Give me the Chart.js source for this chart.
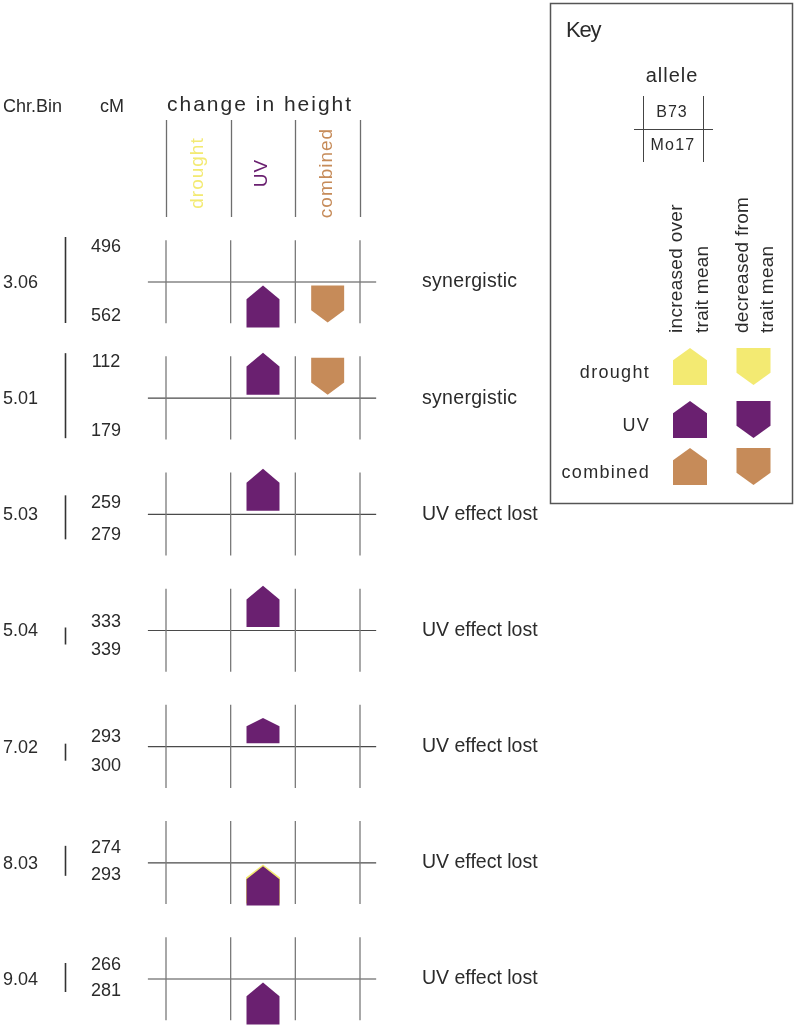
<!DOCTYPE html>
<html><head><meta charset="utf-8">
<script src="https://cdn.jsdelivr.net/npm/chart.js@4.4.0/dist/chart.umd.min.js"></script>
<style>html,body{margin:0;padding:0;background:#fff}#wrap{width:796px;height:1028px;position:relative}</style>
</head><body><div id="wrap"><canvas id="c"></canvas></div>
<script>
// ---------- data ----------
const chrBins = ['3.06','5.01','5.03','5.04','7.02','8.03','9.04'];
const cmStart = [496,112,259,333,293,274,266];
const cmEnd   = [562,179,279,339,300,293,281];
const interaction = ['synergistic','synergistic','UV effect lost','UV effect lost','UV effect lost','UV effect lost','UV effect lost'];
const traits = ['drought','UV','combined'];
// relative change in height (+ increased over trait mean, - decreased from trait mean)
const droughtEffect  = [null,null,null,null,null,null,null];
const uvEffect       = [1.0,1.0,1.0,0.98,0.6,0.93,1.0];
const combinedEffect = [-0.88,-0.88,null,null,null,null,null];
const effectAllele   = ['Mo17','B73','B73','B73','B73','Mo17','Mo17'];
const droughtOverlap = [false,false,false,false,false,true,false];
const alleles = ['B73','Mo17'];
const keyRows = ['drought','UV','combined'];
const keyCols = [['increased over','trait mean'],['decreased from','trait mean']];

// ---------- styles / layout ----------
const COLORS = {drought:'#F3EA72', UV:'#6A2070', combined:'#C68B59'};
const TEXT = '#2b2b2b';
const FONT = '"Liberation Sans", Arial, sans-serif';
const GLYPH_H = 0.3615;   // row units for relative effect 1.0
const GLYPH_W = 0.51;     // column units
const GAP = 3.5;          // px between row line and glyph
const barExtent = [[-45,41],[-45,40],[-19,25],[-3,14],[-3,14],[-17,13],[-16,13]];
const cmOffset  = [[-35,34],[-36,33],[-11,21],[-8,20],[-10,19],[-15,12],[-14,12]];

const effects = [droughtEffect, uvEffect, combinedEffect];

// grid line datasets built from the categories
const hLine = [], vLine = [];
chrBins.forEach((_, r) => {
  hLine.push({x:-0.78, y:r}, {x:2.75, y:r}, {x:null, y:null});
  for (let c = 0; c <= traits.length; c++) {
    vLine.push({x:c-0.5, y:r-0.36}, {x:c-0.5, y:r+0.355}, {x:null, y:null});
  }
});

function pent(ctx, cx, top, w, h, dir, color) {
  const roof = Math.min(h * 0.33, 14);
  ctx.beginPath();
  if (dir > 0) {
    ctx.moveTo(cx, top);
    ctx.lineTo(cx + w/2, top + roof);
    ctx.lineTo(cx + w/2, top + h);
    ctx.lineTo(cx - w/2, top + h);
    ctx.lineTo(cx - w/2, top + roof);
  } else {
    ctx.moveTo(cx - w/2, top);
    ctx.lineTo(cx + w/2, top);
    ctx.lineTo(cx + w/2, top + h - roof);
    ctx.lineTo(cx, top + h);
    ctx.lineTo(cx - w/2, top + h - roof);
  }
  ctx.closePath();
  ctx.fillStyle = color;
  ctx.fill();
}
function txt(ctx, s, x, y, size, opts = {}) {
  ctx.save();
  ctx.font = (opts.weight || '') + ' ' + size + 'px ' + FONT;
  ctx.fillStyle = opts.color || TEXT;
  ctx.textAlign = opts.align || 'left';
  ctx.textBaseline = 'middle';
  if ('letterSpacing' in ctx) ctx.letterSpacing = (opts.ls || 0) + 'px';
  ctx.translate(x, y);
  if (opts.rot) ctx.rotate(opts.rot);
  ctx.fillText(s, 0, 0);
  ctx.restore();
}

const glyphPlugin = {
  id: 'glyphs',
  afterDatasetsDraw(chart) {
    const {ctx, scales:{x, y}} = chart;
    const rowPx = Math.abs(y.getPixelForValue(1) - y.getPixelForValue(0));
    const colPx = Math.abs(x.getPixelForValue(1) - x.getPixelForValue(0));
    const w = GLYPH_W * colPx;
    chrBins.forEach((_, r) => {
      const yr = y.getPixelForValue(r);
      traits.forEach((t, c) => {
        const v = effects[c][r];
        if (v == null) return;
        const h = Math.abs(v) * GLYPH_H * rowPx;
        const cx = x.getPixelForValue(c);
        const top = effectAllele[r] === 'B73' ? yr - GAP - h : yr + GAP;
        if (t === 'UV' && droughtOverlap[r]) pent(ctx, cx, top - 1.8, w + 1, h, Math.sign(v), COLORS.drought);
        pent(ctx, cx, top, w, h, Math.sign(v), COLORS[t]);
      });
    });
  },
  afterDraw(chart) {
    const {ctx, scales:{x, y}} = chart;
    // header
    txt(ctx, 'Chr.Bin', 3, 107, 18);
    txt(ctx, 'cM', 100, 107, 18);
    txt(ctx, 'change in height', 167, 105, 21, {ls:2});
    ctx.save();
    ctx.strokeStyle = '#6e6e6e'; ctx.lineWidth = 1.3;
    for (let c = 0; c <= traits.length; c++) {
      const px = Math.round(x.getPixelForValue(c - 0.5)) + 0.5;
      ctx.beginPath(); ctx.moveTo(px, 120); ctx.lineTo(px, 217); ctx.stroke();
    }
    ctx.restore();
    traits.forEach((t, c) => {
      txt(ctx, t, x.getPixelForValue(c) - 1, 173, 19, {color: COLORS[t], align:'center', rot:-Math.PI/2, ls:1});
    });
    // row labels
    chrBins.forEach((b, r) => {
      const yr = y.getPixelForValue(r);
      txt(ctx, b, 3, yr + 1, 18);
      ctx.save();
      ctx.strokeStyle = '#333'; ctx.lineWidth = 1.6;
      ctx.beginPath(); ctx.moveTo(65.5, yr + barExtent[r][0]); ctx.lineTo(65.5, yr + barExtent[r][1]); ctx.stroke();
      ctx.restore();
      txt(ctx, String(cmStart[r]), 106, yr + cmOffset[r][0], 18, {align:'center'});
      txt(ctx, String(cmEnd[r]), 106, yr + cmOffset[r][1], 18, {align:'center'});
      txt(ctx, interaction[r], 422, yr, 19.5, {ls: interaction[r] === 'synergistic' ? 0.3 : 0});
    });
    // key
    ctx.save();
    ctx.strokeStyle = '#555'; ctx.lineWidth = 1.5;
    ctx.strokeRect(550.5, 3.5, 242, 500);
    ctx.restore();
    txt(ctx, 'Key', 566, 31, 22, {ls:-1.2});
    txt(ctx, 'allele', 672, 76, 20, {align:'center', ls:1});
    ctx.save();
    ctx.strokeStyle = '#444'; ctx.lineWidth = 1;
    ctx.beginPath();
    ctx.moveTo(643.5, 96); ctx.lineTo(643.5, 162);
    ctx.moveTo(703.5, 96); ctx.lineTo(703.5, 162);
    ctx.moveTo(634, 129.5); ctx.lineTo(713, 129.5);
    ctx.stroke();
    ctx.restore();
    txt(ctx, alleles[0], 672, 113, 16, {align:'center', ls:1});
    txt(ctx, alleles[1], 673, 146, 16, {align:'center', ls:1.2});
    const kx = [[677, 703], [743, 768]];
    keyCols.forEach((lines, i) => {
      lines.forEach((s, j) => txt(ctx, s, kx[i][j], 333, 19, {rot:-Math.PI/2, ls:0.3}));
    });
    const kTop = [348, 401, 448];
    keyRows.forEach((t, i) => {
      txt(ctx, t, 650, kTop[i] + 25, 18, {align:'right', ls:1.3});
      pent(ctx, 690, kTop[i], 34, 37, 1, COLORS[t]);
      pent(ctx, 753.5, kTop[i], 34, 37, -1, COLORS[t]);
    });
  }
};

new Chart(document.getElementById('c'), {
  type: 'scatter',
  data: {
    datasets: [
      {data: vLine, showLine: true, pointRadius: 0, borderColor: '#7a7a7a', borderWidth: 1.3, clip: false, spanGaps: false},
      {data: hLine, showLine: true, pointRadius: 0, borderColor: '#4a4a4a', borderWidth: 1.2, clip: false, spanGaps: false}
    ]
  },
  options: {
    responsive: true,
    maintainAspectRatio: false,
    animation: false,
    layout: {padding: {left: 166, right: 436, top: 282, bottom: 49}},
    plugins: {legend: {display: false}, tooltip: {enabled: false}},
    scales: {
      x: {type: 'linear', min: -0.5, max: 2.5, display: false},
      y: {type: 'linear', min: 0, max: chrBins.length - 1, reverse: true, display: false}
    }
  },
  plugins: [glyphPlugin]
});
</script>
</body></html>
